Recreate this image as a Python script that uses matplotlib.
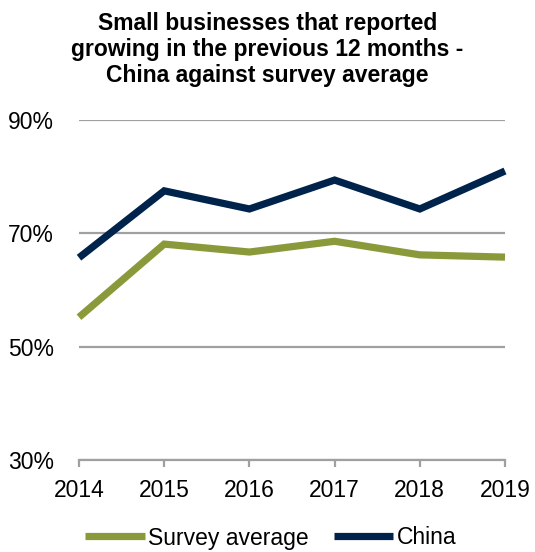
import matplotlib
matplotlib.use("Agg")
import matplotlib.pyplot as plt
from matplotlib.ticker import FuncFormatter

# --- data ---
years = [2014, 2015, 2016, 2017, 2018, 2019]
survey_avg = [55.2, 68.1, 66.7, 68.6, 66.2, 65.8]
china = [65.7, 77.5, 74.3, 79.4, 74.3, 81.0]

plt.rcParams['font.family'] = ['Liberation Sans', 'DejaVu Sans']

fig = plt.figure(figsize=(5.35, 5.52), dpi=100)
ax = fig.add_axes([79/535, 1 - 460/552, (505 - 79)/535, (460 - 120)/552])

ax.plot(years, survey_avg, color='#8A9A3B', lw=5.2, label='Survey average',
        solid_joinstyle='miter', solid_capstyle='butt', zorder=3)
ax.plot(years, china, color='#00234B', lw=5.2, label='China',
        solid_joinstyle='miter', solid_capstyle='butt', zorder=3)

ax.set_xlim(2014, 2019)
ax.set_ylim(30, 90)
ax.set_yticks([30, 50, 70, 90])
ax.set_xticks(years)
ax.yaxis.set_major_formatter(FuncFormatter(lambda v, p: f"{v:.0f}%"))

# horizontal gridlines, only the bottom spine kept
ax.grid(axis='y', color='#A0A0A0', lw=1.6, zorder=0)
for s in ['top', 'right', 'left']:
    ax.spines[s].set_visible(False)
ax.spines['bottom'].set_color('#A0A0A0')
ax.spines['bottom'].set_linewidth(1.6)
ax.tick_params(axis='y', length=0, pad=18, labelsize=16.5)
ax.tick_params(axis='x', length=5, width=1.6, color='#A0A0A0', direction='out',
               pad=9, labelsize=16.5)
for ln in ax.lines:
    ln.set_clip_on(False)

fig.text(0.5, 0.978, "Small businesses that reported\ngrowing in the previous 12 months -\nChina against survey average",
         ha='center', va='top', fontsize=16.5, fontweight='bold', linespacing=1.15)

ax.legend(loc='center', bbox_to_anchor=(0.45, (538 - 460) / -340), ncol=2, frameon=False,
          fontsize=16.5, handlelength=2.6, handletextpad=0.15, columnspacing=1.1,
          borderaxespad=0)

fig.savefig("out.png", dpi=100)
